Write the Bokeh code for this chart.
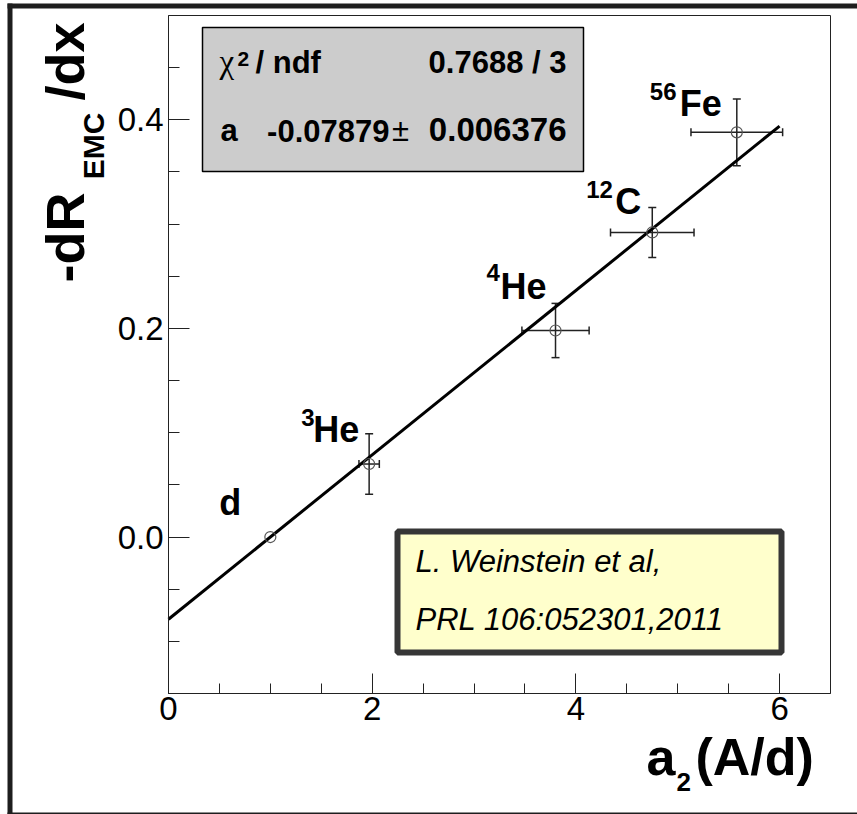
import math

from bokeh.plotting import figure
from bokeh.models import (Range1d, FixedTicker, NumeralTickFormatter, Label,
                          BoxAnnotation, Whisker, TeeHead, ColumnDataSource)
from bokeh.embed import file_html
from bokeh.resources import INLINE

# ---------------------------------------------------------------- data
# nuclei: mass number (superscript) and element symbol
nuclei_mass = ["", "3", "4", "12", "56"]
nuclei_symbol = ["d", "He", "He", "C", "Fe"]

# a2 short-range-correlation scale factor and EMC slope per nucleus
a2 = [1.0, 1.97, 3.80, 4.75, 5.58]
a2_err = [0.0, 0.10, 0.33, 0.41, 0.45]
emc_slope = [0.0, 0.070, 0.198, 0.292, 0.388]
emc_slope_err = [0.0, 0.029, 0.026, 0.024, 0.032]

# linear fit constrained through the deuteron point: y = a (1 - x)
fit_a = -0.07879
fit_a_err = 0.006376
fit_chi2 = 0.7688
fit_ndf = 3
fit_x = [0.0, 6.0]
fit_y = [fit_a * (1.0 - x) for x in fit_x]

# axis ticks
x_major = [0, 2, 4, 6]
x_minor = [0.5, 1.0, 1.5, 2.5, 3.0, 3.5, 4.5, 5.0, 5.5]
y_major = [0.0, 0.2, 0.4]
y_minor = [-0.10, -0.05, 0.05, 0.10, 0.15, 0.25, 0.30, 0.35, 0.45]

# ---------------------------------------------------------------- geometry
W, H = 857, 814
FL, FR, FT, FB = 168, 830, 15, 693          # plot-area edges in page pixels
X0, X1 = 0.0, 6.5                            # plot-area data limits
Y0, Y1 = -0.15, 0.5


def dx(px):
    """page pixel column -> data x"""
    return X0 + (px - FL) * (X1 - X0) / (FR - FL)


def dy(py):
    """page pixel row -> data y"""
    return Y1 - (py - FT) * (Y1 - Y0) / (FB - FT)


SANS = "Liberation Sans"
SERIF = "Liberation Serif"
AXIS = "#222222"
MID = 0.35      # distance from the alphabetic baseline to the text-box middle, in em

# the frame spans the whole canvas; the axes sit at fixed data locations,
# so titles and the canvas border can be drawn inside the frame
p = figure(width=W, height=H,
           x_range=Range1d(dx(0), dx(W)), y_range=Range1d(dy(H), dy(0)),
           output_backend="svg", toolbar_location=None,
           min_border_left=0, min_border_right=0,
           min_border_top=0, min_border_bottom=0)
p.grid.visible = False
p.background_fill_color = "white"
p.border_fill_color = "white"
p.outline_line_color = None

# ---------------------------------------------------------------- canvas border (left, top, bottom)
border_l = [dx(7), dx(7), dx(7)]
border_r = [dx(12), dx(W), dx(W)]
border_t = [dy(3), dy(3), dy(812)]
border_b = [dy(H), dy(8), dy(H)]
p.quad(left=border_l, right=border_r, top=border_t, bottom=border_b,
       fill_color="#1e1e1e", line_color=None)

# ---------------------------------------------------------------- axes
xa = p.xaxis[0]
xa.fixed_location = Y0
xa.bounds = (X0, X1)
xa.ticker = FixedTicker(ticks=x_major, minor_ticks=x_minor)
xa.formatter = NumeralTickFormatter(format="0")
xa.major_tick_in, xa.major_tick_out = 20, 0
xa.minor_tick_in, xa.minor_tick_out = 10, 0
xa.major_label_standoff = 3

ya = p.yaxis[0]
ya.fixed_location = X0
ya.bounds = (Y0, Y1)
ya.ticker = FixedTicker(ticks=y_major, minor_ticks=y_minor)
ya.formatter = NumeralTickFormatter(format="0.0")
ya.major_tick_in, ya.major_tick_out = 21, 0
ya.minor_tick_in, ya.minor_tick_out = 11, 0
ya.major_label_standoff = 5

for ax in (xa, ya):
    ax.axis_line_color = AXIS
    ax.major_tick_line_color = AXIS
    ax.minor_tick_line_color = AXIS
    ax.major_label_text_font = SANS
    ax.major_label_text_font_size = "33px"
    ax.major_label_text_color = "black"

# plot-area outline
p.add_layout(BoxAnnotation(left=X0, right=X1, bottom=Y0, top=Y1,
                           fill_alpha=0.0, line_color=AXIS, line_alpha=1.0,
                           line_width=1, level="underlay"))

# ---------------------------------------------------------------- fit line and points
p.line(fit_x, fit_y, line_color="black", line_width=3)

err_idx = [i for i in range(len(a2)) if a2_err[i] > 0 or emc_slope_err[i] > 0]
err_src = ColumnDataSource(dict(
    x=[a2[i] for i in err_idx],
    y=[emc_slope[i] for i in err_idx],
    x_lo=[a2[i] - a2_err[i] for i in err_idx],
    x_hi=[a2[i] + a2_err[i] for i in err_idx],
    y_lo=[emc_slope[i] - emc_slope_err[i] for i in err_idx],
    y_hi=[emc_slope[i] + emc_slope_err[i] for i in err_idx],
))


def tee():
    return TeeHead(size=8, line_color=AXIS, line_width=1.5)


p.add_layout(Whisker(source=err_src, base="x", lower="y_lo", upper="y_hi",
                     dimension="height", line_color=AXIS, line_width=1.5,
                     lower_head=tee(), upper_head=tee()))
p.add_layout(Whisker(source=err_src, base="y", lower="x_lo", upper="x_hi",
                     dimension="width", line_color=AXIS, line_width=1.5,
                     lower_head=tee(), upper_head=tee()))

p.scatter(a2, emc_slope, marker="circle", size=11, fill_color=None,
          line_color="#555555", line_width=1.2)

# ---------------------------------------------------------------- nucleus labels
# pixel offsets (to the baseline-left corner) of symbol / mass-number text
sym_offset = [(-51, 22), (-56, 22), (-55, 31), (-37, 18), (-57, 16)]
mass_offset = [(0, 0), (-68, 38), (-69, 50), (-66, 35), (-87, 32)]
SYM_SIZE, MASS_SIZE = 36, 24

for i in range(len(a2)):
    ox, oy = sym_offset[i]
    p.add_layout(Label(x=a2[i], y=emc_slope[i], x_offset=ox,
                       y_offset=oy + MID * SYM_SIZE,
                       text=nuclei_symbol[i], text_font=SANS,
                       text_font_size=f"{SYM_SIZE}px",
                       text_font_style="bold", text_color="black",
                       text_align="left", text_baseline="middle"))
    if nuclei_mass[i]:
        mx, my = mass_offset[i]
        p.add_layout(Label(x=a2[i], y=emc_slope[i], x_offset=mx,
                           y_offset=my + MID * MASS_SIZE,
                           text=nuclei_mass[i], text_font=SANS,
                           text_font_size=f"{MASS_SIZE}px",
                           text_font_style="bold", text_color="black",
                           text_align="left", text_baseline="middle"))


def txt(px, py, s, size, style="bold", font=SANS, align="left", rotated=False):
    """text whose baseline passes through page pixel (px, py)"""
    if rotated:
        ax_, ay_, angle = px - MID * size, py, math.pi / 2
    else:
        ax_, ay_, angle = px, py - MID * size, 0.0
    p.add_layout(Label(x=dx(ax_), y=dy(ay_), text=s, text_font=font,
                       text_font_size=f"{size}px", text_font_style=style,
                       text_color="black", text_align=align,
                       text_baseline="middle", angle=angle))


# ---------------------------------------------------------------- fit statistics box
p.add_layout(BoxAnnotation(left=dx(202), right=dx(583), top=dy(27), bottom=dy(171),
                           fill_color="#cccccc", fill_alpha=1.0,
                           line_color="black", line_alpha=1.0, line_width=1.5,
                           level="annotation"))
txt(219, 73, "\u03c7", 33, style="normal", font=SERIF)
txt(237, 66, "2", 21)
txt(255, 73, "/ ndf", 31)
txt(566, 73, f"{fit_chi2:.4f} / {fit_ndf}", 31, align="right")
txt(220, 141, "a", 31)
txt(389, 141, f"{fit_a:.5f}", 31, align="right")
txt(400, 141, "\u00b1", 31, style="normal", align="center")
txt(566, 141, f"{fit_a_err:.6f}", 33, align="right")

# ---------------------------------------------------------------- reference box
p.add_layout(BoxAnnotation(left=dx(397), right=dx(781), top=dy(531), bottom=dy(652),
                           fill_color="#ffffcc", fill_alpha=1.0,
                           line_color="#363636", line_alpha=1.0, line_width=6,
                           level="annotation"))
txt(415, 572, "L. Weinstein et al,", 31, style="italic")
txt(415, 630, "PRL 106:052301,2011", 31, style="italic")

# ---------------------------------------------------------------- axis titles
txt(646, 775, "a", 52)
txt(676, 791, "2", 26)
txt(695, 775, "(A/d)", 52)

txt(83, 192, "-dR", 54, align="right", rotated=True)
txt(103, 112, "EMC", 30, align="right", rotated=True)
txt(83, 22, "/dx", 54, align="right", rotated=True)

open("out.html", "w").write(file_html(p, INLINE))
